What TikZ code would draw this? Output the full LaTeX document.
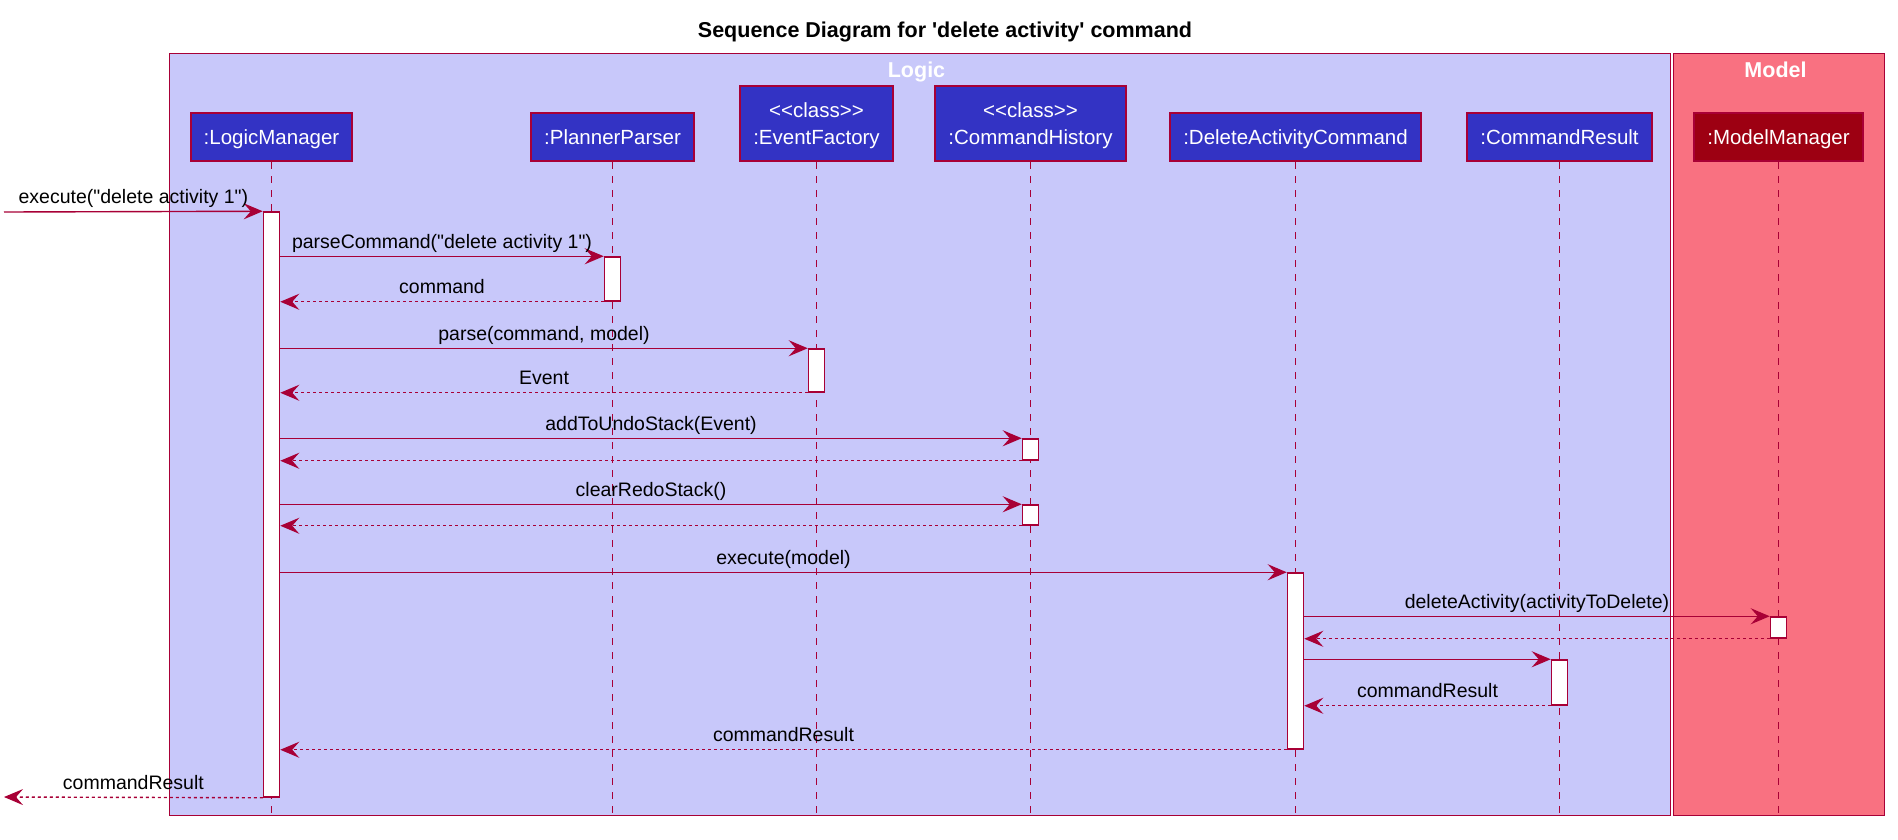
\documentclass[tikz,border=0pt]{standalone}
\usepackage{fontspec}
\setmainfont{Liberation Sans}[Ligatures=TeXOff]
\usepackage{tikz}
\usetikzlibrary{arrows.meta, positioning, calc}

\definecolor{umlred}{HTML}{A80036}
\definecolor{logicblue}{HTML}{3333C4}
\definecolor{logicbg}{HTML}{C8C8FA}
\definecolor{modeldark}{HTML}{9D0012}
\definecolor{modelbg}{HTML}{F97181}

\newcommand{\partfont}{\fontsize{20.5}{27}\selectfont}
\newcommand{\msgfont}{\fontsize{19.5}{23}\selectfont}
\newcommand{\headfont}{\fontsize{21.5}{26}\selectfont\bfseries}

\begin{document}
\begin{tikzpicture}[
        x=1pt, y=-1pt,
        part/.style={rectangle, draw=umlred, fill=logicblue, line width=2pt, text=white, font=\partfont, inner xsep=13pt, inner ysep=14pt, text height=17pt, text depth=3pt, anchor=south},
        partcls/.style={rectangle, draw=umlred, fill=logicblue, line width=2pt, text=white, font=\partfont, inner xsep=13pt, inner ysep=0pt, minimum height=75pt, align=center, anchor=south},
        life/.style={draw=umlred, line width=1.3pt, dash pattern=on 7pt off 7pt},
        act/.style={rectangle, draw=umlred, fill=white, line width=1.5pt, minimum width=16pt, inner sep=0pt},
        call/.style={draw=umlred, line width=1.4pt, -{Stealth[length=19pt, width=16pt, inset=7pt]}},
        ret/.style={call, dash pattern=on 3pt off 3pt},
        msg/.style={font=\msgfont, anchor=base, inner sep=0pt, midway, yshift=8pt}
    ]
    \useasboundingbox (0,0) rectangle (1898,839);

    \node (title) [font=\headfont, anchor=base] at (945,37) {Sequence Diagram for 'delete activity' command};

    \draw [umlred, fill=logicbg, line width=1pt] (169,53) rectangle (1670,815);
    \draw [umlred, fill=modelbg, line width=1pt] (1673,53) rectangle (1884,815);
    \node (logichd) [font=\headfont, text=white, anchor=base] at (916.5,77) {Logic};
    \node (modelhd) [font=\headfont, text=white, anchor=base] at (1775.5,77) {Model};

    \node (lm) [part] at (271.5,162) {:LogicManager};
    \node (pp) [part] at (612.5,162) {:PlannerParser};
    \node (ef) [partcls] at (816.5,162) {\rule{0pt}{20pt}<<class>>\\:EventFactory};
    \node (ch) [partcls] at (1030.5,162) {\rule{0pt}{20pt}<<class>>\\:CommandHistory};
    \node (dc) [part] at (1295.5,162) {:DeleteActivityCommand};
    \node (cr) [part] at (1559.5,162) {:CommandResult};
    \node (mm) [part, fill=modeldark] at (1778.5,162) {:ModelManager};

    \coordinate (bot) at (0,815);
    \foreach \p in {lm,pp,ef,ch,dc,cr,mm}
        \draw [life] (\p.south) -- (\p.south |- bot);

    \node (lma) [act, minimum height=585pt] at (271.5,504.5) {};
    \node (ppa) [act, minimum height=44pt] at (612.5,279) {};
    \node (efa) [act, minimum height=43pt] at (816.5,370.5) {};
    \node (cha1) [act, minimum height=21pt] at (1030.5,449.5) {};
    \node (cha2) [act, minimum height=20pt] at (1030.5,515) {};
    \node (dca) [act, minimum height=176pt] at (1295.5,661) {};
    \node (mma) [act, minimum height=21pt] at (1778.5,627.5) {};
    \node (cra) [act, minimum height=45pt] at (1559.5,682.5) {};

    \coordinate (in) at (4,212);
    \coordinate (out) at (4,797);

    \draw [call] (in) -- (lma.north west) node [msg] {execute("delete activity 1")};
    \draw [call] (lma.east |- ppa.north) -- (ppa.north west) node [msg] {parseCommand("delete activity 1")};
    \draw [ret] (ppa.south west) -- (lma.east |- ppa.south) node [msg] {command};
    \draw [call] (lma.east |- efa.north) -- (efa.north west) node [msg] {parse(command, model)};
    \draw [ret] (efa.south west) -- (lma.east |- efa.south) node [msg] {Event};
    \draw [call] (lma.east |- cha1.north) -- (cha1.north west) node [msg] {addToUndoStack(Event)};
    \draw [ret] (cha1.south west) -- (lma.east |- cha1.south);
    \draw [call] (lma.east |- cha2.north) -- (cha2.north west) node [msg] {clearRedoStack()};
    \draw [ret] (cha2.south west) -- (lma.east |- cha2.south);
    \draw [call] (lma.east |- dca.north) -- (dca.north west) node [msg] {execute(model)};
    \draw [call] (dca.east |- mma.north) -- (mma.north west) node [msg] {deleteActivity(activityToDelete)};
    \draw [ret] (mma.south west) -- (dca.east |- mma.south);
    \draw [call] (dca.east |- cra.north) -- (cra.north west);
    \draw [ret] (cra.south west) -- (dca.east |- cra.south) node [msg] {commandResult};
    \draw [ret] (dca.south west) -- (lma.east |- dca.south) node [msg] {commandResult};
    \draw [ret] (lma.south west) -- (out) node [msg] {commandResult};
\end{tikzpicture}
\end{document}
